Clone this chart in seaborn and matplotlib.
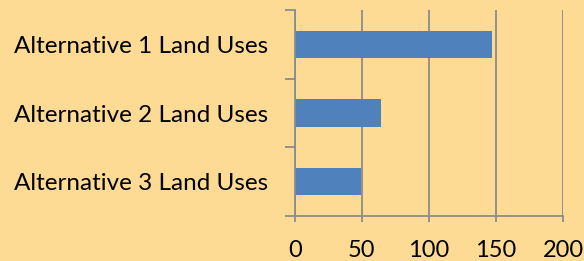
import pandas as pd
import numpy as np
import matplotlib.pyplot as plt
import seaborn as sns

# Chart data
categories = ["Alternative 1 Land Uses", "Alternative 2 Land Uses", "Alternative 3 Land Uses"]
values = [147, 64, 49]
x_ticks = [0, 50, 100, 150, 200]

df = pd.DataFrame({"category": categories, "value": values})

bg = "#FDDB95"
grid_col = "#8C8C8C"

sns.set_theme(style="white")
plt.rcParams['font.family'] = ['Lato', 'DejaVu Sans']

fig = plt.figure(figsize=(5.84, 2.61), dpi=100, facecolor=bg)
ax = fig.add_axes([0.505, 0.172, 0.459, 0.79])
ax.set_facecolor(bg)

sns.barplot(data=df, x="value", y="category", orient="h", color="#4F81BD",
            saturation=1, width=0.4, linewidth=0, ax=ax, zorder=3)

ax.set_xlim(0, 200)
ax.set_ylim(2.5, -0.5)
ax.set_xticks(x_ticks)
ax.set_xticklabels([str(t) for t in x_ticks])
ax.xaxis.grid(True, color=grid_col, linewidth=1.3, zorder=1)
ax.yaxis.grid(False)

# category boundary ticks on the y axis
ax.set_yticks([-0.5, 0.5, 1.5, 2.5], minor=True)
ax.tick_params(axis="y", which="major", length=0, pad=19, labelsize=17.5, labelcolor="black")
ax.tick_params(axis="y", which="minor", length=7, width=1.3, color=grid_col, direction="out", left=True)
ax.tick_params(axis="x", which="major", length=4, width=1.3, color=grid_col, bottom=True,
               pad=13, labelsize=17, labelcolor="black")

ax.set_xlabel("")
ax.set_ylabel("")

for s in ["top", "right"]:
    ax.spines[s].set_visible(False)
for s in ["left", "bottom"]:
    ax.spines[s].set_color(grid_col)
    ax.spines[s].set_linewidth(1.3)
    ax.spines[s].set_zorder(4)

plt.savefig("out.png", dpi=100, facecolor=bg)
